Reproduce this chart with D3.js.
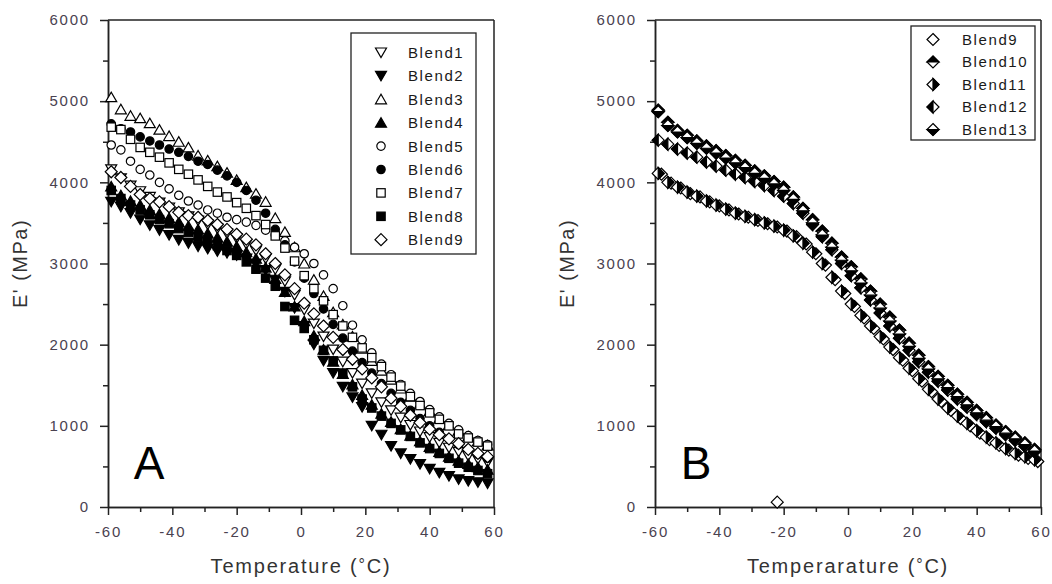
<!DOCTYPE html>
<html>
<head>
<meta charset="utf-8">
<script src="https://cdn.jsdelivr.net/npm/d3@7"></script>
<style>
html,body{margin:0;padding:0;background:#fff;}
svg{display:block;font-family:Arial,"Liberation Sans",sans-serif;}
</style>
</head>
<body>
<svg id="chart" width="1052" height="584"></svg>
<script>
// ---------- DATA ----------
const xTicks = [-60, -40, -20, 0, 20, 40, 60];
const yTicks = [0, 1000, 2000, 3000, 4000, 5000, 6000];
const xMinor = [-50, -30, -10, 10, 30, 50];
const yMinor = [500, 1500, 2500, 3500, 4500, 5500];

const tempsA = [-59,-56,-53,-50,-47,-44,-41,-38,-35,-32,-29,-26,-23,-20,-17,-14,-11,-8,-5,-2,1,4,7,10,13,16,19,22,25,28,31,34,37,40,43,46,49,52,55,58];

const blend1 = [4160,4050,3960,3890,3820,3750,3690,3630,3580,3530,3480,3430,3370,3310,3240,3160,3060,2930,2780,2610,2430,2260,2100,1940,1790,1650,1520,1400,1290,1190,1100,1010,930,860,790,730,680,630,590,550];
const blend2 = [3760,3700,3620,3540,3470,3410,3350,3290,3250,3210,3180,3150,3130,3100,3060,3000,2920,2800,2650,2450,2230,2000,1800,1650,1480,1350,1230,1000,890,750,660,590,530,470,420,380,340,320,305,290];
const blend3 = [5050,4900,4820,4790,4730,4650,4570,4500,4430,4330,4270,4200,4120,4030,3940,3860,3760,3560,3390,3200,3000,2800,2600,2400,2250,2100,1950,1800,1680,1570,1460,1360,1270,1180,1090,1010,940,870,810,760];
const blend4 = [3950,3840,3770,3720,3660,3610,3560,3510,3460,3420,3370,3320,3270,3210,3140,3060,2950,2810,2650,2470,2290,2110,1940,1790,1640,1510,1380,1260,1150,1050,960,880,810,740,680,620,570,530,490,460];
const blend5 = [4460,4400,4260,4160,4090,4000,3920,3840,3770,3720,3660,3620,3570,3540,3510,3470,3410,3350,3280,3200,3120,3000,2860,2690,2480,2240,2060,1900,1760,1630,1510,1400,1300,1200,1110,1030,950,880,820,770];
const blend6 = [4720,4660,4620,4560,4510,4460,4410,4370,4320,4260,4220,4150,4080,4000,3900,3780,3620,3420,3230,3020,2820,2630,2440,2250,2080,1920,1780,1650,1520,1400,1290,1190,1090,1000,920,840,770,710,650,600];
const blend7 = [4680,4650,4530,4430,4370,4310,4240,4160,4100,4030,3950,3880,3820,3750,3680,3590,3480,3340,3190,3030,2850,2690,2540,2370,2230,2090,1960,1840,1730,1600,1490,1360,1250,1160,1080,1000,900,850,800,750];
const blend8 = [3900,3800,3720,3660,3600,3540,3490,3430,3380,3320,3270,3220,3160,3100,3020,2930,2820,2720,2470,2300,2200,2060,1930,1800,1650,1480,1330,1220,1120,1030,950,870,790,720,660,600,540,490,450,410];
const blend9 = [4130,4060,3950,3850,3800,3760,3700,3630,3590,3570,3530,3480,3420,3360,3300,3230,3120,3000,2860,2690,2510,2380,2230,2090,1940,1820,1700,1590,1480,1340,1240,1130,1040,960,890,840,780,710,660,620];

const tempsB = [-59,-56,-53,-50,-47,-44,-41,-38,-35,-32,-29,-26,-23,-20,-17,-14,-11,-8,-5,-2,1,4,7,10,13,16,19,22,25,28,31,34,37,40,43,46,49,52,55,58];
const tempsB9 = [-58,-55,-52,-49,-46,-43,-40,-37,-34,-31,-28,-25,-22,-19,-16,-13,-10,-7,-4,-1,2,5,8,11,14,17,20,23,26,29,32,35,38,41,44,47,50,53,56,59];
const blend9B = [4100,3990,3930,3860,3820,3760,3710,3660,3610,3570,3530,3490,3450,3400,3330,3240,3120,2980,2800,2630,2470,2330,2200,2070,1940,1810,1680,1550,1420,1300,1190,1090,1000,910,830,760,700,640,600,560];
const blend9BOutlierT = [-22];
const blend9BOutlierV = [60];
const blend10 = [4890,4740,4640,4580,4510,4450,4390,4330,4270,4210,4140,4080,4010,3940,3820,3680,3540,3400,3250,3080,2960,2810,2660,2500,2340,2180,2020,1870,1730,1610,1500,1390,1290,1190,1100,1010,930,860,790,710];
const blend11 = [4110,4000,3940,3880,3830,3770,3720,3670,3620,3580,3540,3500,3460,3410,3340,3250,3140,3000,2830,2660,2500,2360,2230,2100,1970,1840,1710,1580,1450,1330,1220,1120,1030,940,860,790,720,660,620,580];
const blend12 = [4520,4470,4410,4360,4310,4250,4200,4150,4100,4060,4010,3960,3900,3830,3740,3620,3480,3330,3170,3000,2850,2700,2550,2390,2230,2080,1930,1790,1660,1550,1440,1330,1230,1140,1050,970,890,820,750,680];
const blend13 = [4870,4700,4620,4550,4480,4420,4360,4300,4240,4180,4110,4050,3980,3900,3790,3650,3500,3350,3200,3040,2910,2760,2610,2450,2290,2130,1980,1830,1700,1580,1470,1360,1260,1160,1070,990,910,840,770,690];

const namesA = ["Blend1","Blend2","Blend3","Blend4","Blend5","Blend6","Blend7","Blend8","Blend9"];
const namesB = ["Blend9","Blend10","Blend11","Blend12","Blend13"];

// ---------- SYMBOLS ----------
function drawSymbol(g, kind, cx, cy) {
  const s = g.append("g").attr("transform", `translate(${cx},${cy})`);
  const sw = 1.2;
  const dia = "M0,-6L6,0L0,6L-6,0Z";
  switch (kind) {
    case "triDownOpen": s.append("path").attr("d","M-5.5,-4.5L5.5,-4.5L0,5Z").attr("fill","#fff").attr("stroke","#000").attr("stroke-width",sw); break;
    case "triDownFill": s.append("path").attr("d","M-5.5,-4.5L5.5,-4.5L0,5Z").attr("fill","#000").attr("stroke","#000").attr("stroke-width",sw); break;
    case "triUpOpen": s.append("path").attr("d","M-5.5,4.5L5.5,4.5L0,-5Z").attr("fill","#fff").attr("stroke","#000").attr("stroke-width",sw); break;
    case "triUpFill": s.append("path").attr("d","M-5.5,4.5L5.5,4.5L0,-5Z").attr("fill","#000").attr("stroke","#000").attr("stroke-width",sw); break;
    case "circOpen": s.append("circle").attr("r",4.2).attr("fill","#fff").attr("stroke","#000").attr("stroke-width",sw); break;
    case "circFill": s.append("circle").attr("r",4.2).attr("fill","#000").attr("stroke","#000").attr("stroke-width",sw); break;
    case "sqOpen": s.append("rect").attr("x",-4.2).attr("y",-4.2).attr("width",8.4).attr("height",8.4).attr("fill","#fff").attr("stroke","#000").attr("stroke-width",sw); break;
    case "sqFill": s.append("rect").attr("x",-4.2).attr("y",-4.2).attr("width",8.4).attr("height",8.4).attr("fill","#000").attr("stroke","#000").attr("stroke-width",sw); break;
    case "diaOpen": s.append("path").attr("d",dia).attr("fill","#fff").attr("stroke","#000").attr("stroke-width",sw); break;
    case "diaTop": case "diaRight": case "diaLeft": case "diaBottom": {
      s.append("path").attr("d",dia).attr("fill","#fff").attr("stroke","#000").attr("stroke-width",sw);
      const half = {diaTop:"M-6,0L0,-6L6,0Z", diaBottom:"M-6,0L0,6L6,0Z", diaRight:"M0,-6L6,0L0,6Z", diaLeft:"M0,-6L-6,0L0,6Z"}[kind];
      s.append("path").attr("d",half).attr("fill","#000").attr("stroke","#000").attr("stroke-width",sw);
      break;
    }
  }
}

const svg = d3.select("#chart");
const labelColor = "#4a4250";
const plainFmt = d => String(d);

function panel(opts) {
  const x = d3.scaleLinear().domain([-60, 60]).range([opts.x0, opts.x1]);
  const y = d3.scaleLinear().domain([0, 6000]).range([507, 20]);
  const g = svg.append("g");

  // frame top/right
  g.append("line").attr("x1",opts.x0).attr("x2",opts.x1).attr("y1",y(6000)).attr("y2",y(6000)).attr("stroke","#222").attr("stroke-width",1.5);
  g.append("line").attr("x1",opts.x1).attr("x2",opts.x1).attr("y1",y(6000)).attr("y2",y(0)).attr("stroke","#222").attr("stroke-width",1.5);

  // axes
  const xa = g.append("g").attr("transform",`translate(0,${y(0)})`)
    .call(d3.axisBottom(x).tickValues(xTicks).tickSize(8).tickSizeOuter(0).tickPadding(8).tickFormat(plainFmt));
  const xm = g.append("g").attr("transform",`translate(0,${y(0)})`)
    .call(d3.axisBottom(x).tickValues(xMinor).tickSize(5).tickSizeOuter(0).tickFormat(""));
  const ya = g.append("g").attr("transform",`translate(${opts.x0},0)`)
    .call(d3.axisLeft(y).tickValues(yTicks).tickSize(8).tickSizeOuter(0).tickPadding(10).tickFormat(plainFmt));
  const ym = g.append("g").attr("transform",`translate(${opts.x0},0)`)
    .call(d3.axisLeft(y).tickValues(yMinor).tickSize(5).tickSizeOuter(0).tickFormat(""));
  [xa,xm,ya,ym].forEach(a => {
    a.selectAll("path.domain").attr("stroke","#222").attr("stroke-width",1.5);
    a.selectAll(".tick line").attr("stroke","#222").attr("stroke-width",1.5);
    a.selectAll("text").attr("font-family","Arial, 'Liberation Sans', sans-serif").attr("font-size",15).attr("fill",labelColor).style("letter-spacing","1.8px");
  });
  xm.selectAll("text").remove(); ym.selectAll("text").remove();
  xa.selectAll("text").attr("dy","0.9em");

  // axis titles
  svg.append("text").attr("transform",`translate(${opts.x0 - 81},${(y(0)+y(6000))/2}) rotate(-90)`)
    .attr("text-anchor","middle").attr("font-size",20).attr("fill","#333").style("letter-spacing","1.5px").text("E' (MPa)");
  const xt = svg.append("text").attr("x",(opts.x0+opts.x1)/2).attr("y",573)
    .attr("text-anchor","middle").attr("font-size",20).attr("fill","#333").style("letter-spacing","1.8px");
  xt.append("tspan").text(opts.xTitle + " (");
  xt.append("tspan").attr("font-size",16).attr("dy",-3).text("°");
  xt.append("tspan").attr("dy",3).text("C)");

  // panel letter
  svg.append("text").attr("x",x(opts.letterT)).attr("y",y(350)).attr("font-size",46).attr("fill","#000").text(opts.letter);

  // series
  opts.series.forEach(s => {
    s.temps.forEach((t, i) => drawSymbol(g, s.kind, x(t), y(s.values[i])));
  });

  // legend
  const lg = g.append("g");
  lg.append("rect").attr("x",opts.leg.x).attr("y",opts.leg.y).attr("width",opts.leg.w).attr("height",opts.leg.h)
    .attr("fill","#fff").attr("stroke","#222").attr("stroke-width",1.3);
  opts.series.filter(s => s.name).forEach((s, i) => {
    const cy = opts.leg.y0 + i * opts.leg.dy;
    drawSymbol(lg, s.kind, opts.leg.sx, cy);
    lg.append("text").attr("x",opts.leg.tx).attr("y",cy).attr("dy","0.36em").attr("font-size",15)
      .attr("fill","#1a1a1a").style("letter-spacing","1.6px").text(s.name);
  });
}

panel({
  x0: 108, x1: 494, letter: "A", letterT: -52, xTitle: "Temperature",
  leg: {x: 351, y: 33, w: 125, h: 221, y0: 52.5, dy: 23.4, sx: 381, tx: 408},
  series: [
    {name: namesA[0], kind: "triDownOpen", temps: tempsA, values: blend1},
    {name: namesA[1], kind: "triDownFill", temps: tempsA, values: blend2},
    {name: namesA[2], kind: "triUpOpen", temps: tempsA, values: blend3},
    {name: namesA[3], kind: "triUpFill", temps: tempsA, values: blend4},
    {name: namesA[4], kind: "circOpen", temps: tempsA, values: blend5},
    {name: namesA[5], kind: "circFill", temps: tempsA, values: blend6},
    {name: namesA[6], kind: "sqOpen", temps: tempsA, values: blend7},
    {name: namesA[7], kind: "sqFill", temps: tempsA, values: blend8},
    {name: namesA[8], kind: "diaOpen", temps: tempsA, values: blend9}
  ]
});

panel({
  x0: 655, x1: 1041, letter: "B", letterT: -52, xTitle: "Temperarature",
  leg: {x: 911, y: 26, w: 124, h: 114, y0: 39.5, dy: 22.5, sx: 933, tx: 962},
  series: [
    {name: namesB[0], kind: "diaOpen", temps: tempsB9, values: blend9B},
    {name: namesB[1], kind: "diaTop", temps: tempsB, values: blend10},
    {name: namesB[2], kind: "diaRight", temps: tempsB, values: blend11},
    {name: namesB[3], kind: "diaLeft", temps: tempsB, values: blend12},
    {name: namesB[4], kind: "diaBottom", temps: tempsB, values: blend13},
    {name: null, kind: "diaOpen", temps: blend9BOutlierT, values: blend9BOutlierV}
  ]
});
</script>
</body>
</html>
